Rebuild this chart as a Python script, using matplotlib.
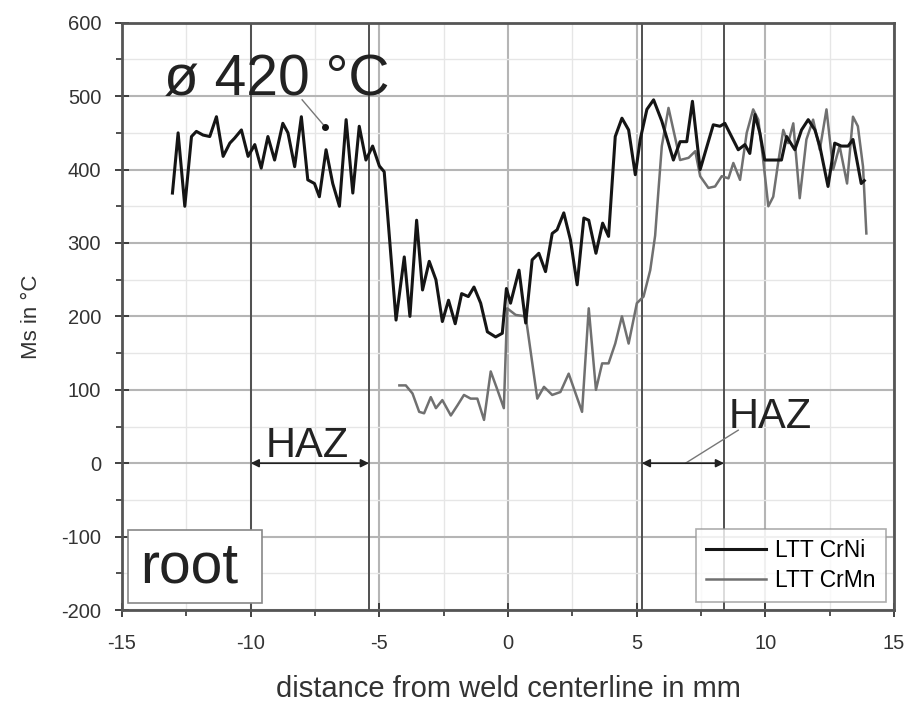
import matplotlib.pyplot as plt
from matplotlib.ticker import MultipleLocator
from matplotlib.patches import Rectangle
import numpy as np

plt.rcParams['font.family'] = ['Liberation Sans', 'DejaVu Sans']
plt.rcParams['axes.unicode_minus'] = False

# LTT CrNi
crni_x = [-13.04, -12.82, -12.56, -12.30, -12.11, -11.85, -11.59, -11.33, -11.07, -10.81,
          -10.62, -10.36, -10.10, -9.84, -9.59, -9.33, -9.07, -8.75, -8.55, -8.29,
          -8.03, -7.78, -7.52, -7.33, -7.07, -6.81, -6.55, -6.29, -6.03, -5.78,
          -5.52, -5.26, -5.00, -4.81, -4.35, -4.03, -3.81, -3.55, -3.32, -3.06,
          -2.80, -2.55, -2.31, -2.05, -1.80, -1.54, -1.32, -1.06, -0.80, -0.48,
          -0.22, -0.06, 0.10, 0.43, 0.69, 0.94, 1.20, 1.46, 1.72, 1.91,
          2.17, 2.43, 2.69, 2.95, 3.14, 3.42, 3.68, 3.91, 4.17, 4.43,
          4.69, 4.95, 5.14, 5.40, 5.66, 5.98, 6.43, 6.69, 6.95, 7.17,
          7.47, 7.98, 8.24, 8.43, 8.69, 8.95, 9.21, 9.40, 9.60, 9.79,
          9.98, 10.37, 10.63, 10.83, 11.15, 11.41, 11.67, 11.93, 12.12, 12.44,
          12.70, 12.96, 13.22, 13.41, 13.73, 13.85]
crni_y = [368, 450, 350, 445, 452, 447, 445, 472, 418, 436,
          443, 454, 418, 434, 402, 445, 413, 463, 450, 404,
          472, 386, 381, 363, 427, 381, 350, 468, 368, 459,
          413, 432, 405, 397, 195, 281, 200, 331, 236, 275,
          250, 193, 222, 190, 231, 227, 240, 218, 179, 172,
          177, 238, 218, 263, 191, 277, 286, 261, 313, 318,
          341, 304, 243, 334, 331, 286, 327, 309, 445, 470,
          454, 393, 441, 482, 495, 466, 413, 438, 438, 493,
          400, 461, 459, 463, 445, 427, 434, 422, 475, 450,
          413, 413, 413, 445, 427, 454, 468, 454, 432, 377,
          436, 432, 432, 441, 381, 385]

# LTT CrMn
crmn_x = [-4.22, -3.97, -3.71, -3.45, -3.26, -3.00, -2.80, -2.55, -2.22, -1.96,
          -1.71, -1.45, -1.19, -0.93, -0.67, -0.41, -0.16, -0.03, 0.30, 0.69,
          1.14, 1.40, 1.72, 2.04, 2.36, 2.88, 3.14, 3.42, 3.66, 3.91,
          4.17, 4.43, 4.69, 5.01, 5.27, 5.53, 5.72, 5.85, 5.98, 6.24,
          6.50, 6.69, 7.02, 7.28, 7.47, 7.79, 8.05, 8.31, 8.57, 8.76,
          9.02, 9.28, 9.53, 9.73, 9.92, 10.12, 10.31, 10.50, 10.70, 10.89,
          11.09, 11.34, 11.60, 11.86, 12.12, 12.38, 12.64, 12.89, 13.18, 13.41,
          13.60, 13.80, 13.93]
crmn_y = [106, 106, 95, 70, 68, 90, 75, 86, 65, 79,
          93, 88, 88, 59, 125, 100, 75, 211, 202, 200,
          88, 104, 93, 97, 122, 70, 211, 100, 136, 136,
          163, 200, 163, 218, 227, 263, 310, 372, 432, 484,
          443, 413, 416, 425, 391, 375, 377, 391, 388, 409,
          386, 450, 482, 468, 413, 350, 363, 409, 454, 436,
          463, 361, 441, 468, 427, 482, 400, 432, 381, 472,
          459, 404, 313]

haz_left = [-10.0, -5.4]
haz_right = [5.2, 8.4]
mean_ms = 420

fig = plt.figure(figsize=(9.14, 7.11), dpi=100)
ax = fig.add_axes([0.1335, 0.142, 0.8445, 0.826])

ax.plot(crni_x, crni_y, color='#151515', lw=2.2, label='LTT CrNi', zorder=4)
ax.plot(crmn_x, crmn_y, color='#707070', lw=1.8, label='LTT CrMn', zorder=3)

# HAZ boundaries
for xv in haz_left + haz_right:
    ax.axvline(xv, color='#505050', lw=1.4, zorder=2)

ax.annotate('', xy=(haz_left[0], 0), xytext=(haz_left[1], 0),
            arrowprops=dict(arrowstyle='<|-|>', color='#222222', lw=1.2,
                            mutation_scale=12, shrinkA=0, shrinkB=0), zorder=5)
ax.annotate('', xy=(haz_right[0], 0), xytext=(haz_right[1], 0),
            arrowprops=dict(arrowstyle='<|-|>', color='#222222', lw=1.2,
                            mutation_scale=12, shrinkA=0, shrinkB=0), zorder=5)
ax.text(-7.8, 8, 'HAZ', fontsize=30, ha='center', va='baseline', color='#222222')
ax.text(10.2, 48, 'HAZ', fontsize=30, ha='center', va='baseline', color='#222222')
ax.plot([6.9, 8.95], [0, 45], color='#777777', lw=1)

# mean annotation
ax.plot([-7.1], [458], 'o', color='#111111', ms=4, zorder=6)
ax.plot([-7.1, -8.0], [458, 495], color='#777777', lw=1)
ax.text(-13.35, 502, 'ø %d °C' % mean_ms, fontsize=41, ha='left', va='baseline', color='#222222')

# root label box
ax.add_patch(Rectangle((-14.77, -191), 5.2, 100, fc='white', ec='#888888', lw=1.2, zorder=7))
ax.text(-14.3, -163, 'root', fontsize=41, ha='left', va='baseline', color='#222222', zorder=8)

ax.set_xlim(-15, 15)
ax.set_ylim(-200, 600)
ax.xaxis.set_major_locator(MultipleLocator(5))
ax.xaxis.set_minor_locator(MultipleLocator(2.5))
ax.yaxis.set_major_locator(MultipleLocator(100))
ax.yaxis.set_minor_locator(MultipleLocator(50))
ax.grid(which='major', color='#b5b5b5', lw=1.5, zorder=0)
ax.grid(which='minor', color='#e6e6e6', lw=1.0, zorder=0)
ax.set_axisbelow(True)
ax.tick_params(which='major', direction='inout', length=10, width=1.3, labelsize=14.5,
               colors='#333333')
ax.tick_params(axis='y', which='major', pad=10)
ax.tick_params(axis='x', which='major', pad=12)
ax.tick_params(which='minor', direction='out', length=4, width=1.2, colors='#333333')
for s in ax.spines.values():
    s.set_color('#555555')
    s.set_linewidth(2)

ax.set_xlabel('distance from weld centerline in mm', fontsize=21, color='#333333', labelpad=16)
ax.set_ylabel('Ms in °C', fontsize=16, color='#333333', labelpad=14)

leg = ax.legend(loc='lower right', fontsize=16.5, frameon=True, fancybox=False,
                edgecolor='#999999', handlelength=2.6, borderaxespad=0.35,
                labelspacing=0.3, borderpad=0.45, handletextpad=0.4)
leg.get_frame().set_linewidth(1.2)
leg.set_zorder(8)

fig.savefig('out.png', dpi=100, facecolor='white')
